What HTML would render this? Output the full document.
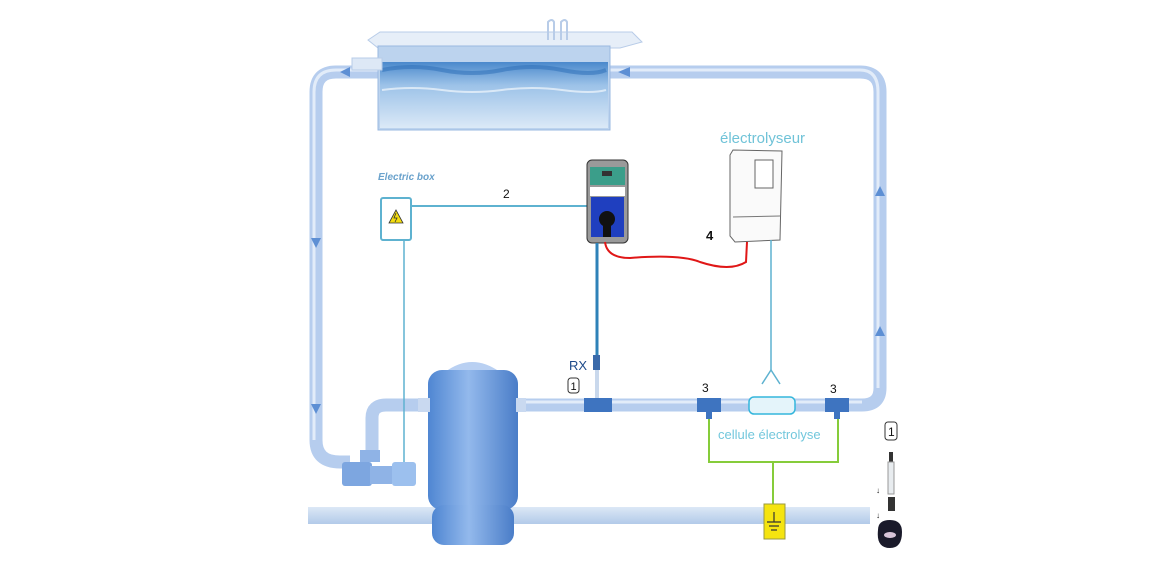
<!DOCTYPE html>
<html><head><meta charset="utf-8"><style>
html,body{margin:0;padding:0;background:#fff;}
svg{display:block;}
text{font-family:"Liberation Sans",sans-serif;}
</style></head><body>
<svg width="1158" height="574" viewBox="0 0 1158 574" xmlns="http://www.w3.org/2000/svg">
<defs>
<linearGradient id="water" x1="0" y1="0" x2="0" y2="1">
<stop offset="0" stop-color="#4a89cc"/><stop offset="0.35" stop-color="#9cc2e8"/><stop offset="1" stop-color="#dbe9f7"/>
</linearGradient>
<linearGradient id="tank" x1="0" y1="0" x2="1" y2="0">
<stop offset="0" stop-color="#4f86d2"/><stop offset="0.45" stop-color="#93b9ec"/><stop offset="1" stop-color="#4a7dc8"/>
</linearGradient>
<linearGradient id="slab" x1="0" y1="0" x2="0" y2="1">
<stop offset="0" stop-color="#dce8f6"/><stop offset="1" stop-color="#b2cae9"/>
</linearGradient>
</defs>
<g fill="none" stroke="#b6cdee" stroke-width="13" stroke-linecap="butt">
<path d="M378 72 H336 Q316 72 316 92 V440 Q316 462 340 462 H350"/>
<path d="M610 72 H860 Q880 72 880 92 V388 Q880 405 862 405 H520"/>
<path d="M372 450 V418 Q372 405 386 405 H430"/>
</g>
<g fill="none" stroke="#e2ecf9" stroke-width="3">
<path d="M378 70 H336 Q314 70 314 92 V440"/>
<path d="M610 70 H860 Q878 70 878 92 V388"/>
<path d="M520 402 H862"/>
</g>
<g fill="#5d8fd4">
<polygon points="340,72 350,67 350,77"/>
<polygon points="618,72 630,67 630,77"/>
<polygon points="316,248 311,238 321,238"/>
<polygon points="316,414 311,404 321,404"/>
<polygon points="880,186 875,196 885,196"/>
<polygon points="880,326 875,336 885,336"/>
</g>
<polygon points="368,40 380,32 632,32 642,42 620,48 378,48" fill="#e6eef8" stroke="#b8cce8"/>
<rect x="378" y="46" width="232" height="84" fill="#bcd3ee" stroke="#9ab8e0"/>
<rect x="380" y="62" width="228" height="66" fill="url(#water)"/>
<path d="M382 70 q30 -6 60 0 t60 0 t60 0 t44 0" stroke="#2a6bb5" stroke-width="4" fill="none" opacity="0.5"/>
<path d="M382 90 q30 -4 60 0 t60 0 t60 0 t44 0" stroke="#ffffff" stroke-width="2" fill="none" opacity="0.6"/>
<path d="M548 40 V22 q4 -4 6 0 V40 M561 40 V22 q4 -4 6 0 V40" stroke="#b8cce8" stroke-width="2" fill="none"/>
<rect x="352" y="58" width="30" height="12" fill="#dde8f6" stroke="#b8cce8"/>
<rect x="308" y="507" width="562" height="17" fill="url(#slab)"/>
<text x="378" y="180" font-size="10" font-weight="bold" font-style="italic" fill="#6aa2cc">Electric box</text>
<rect x="381" y="198" width="30" height="42" rx="2" fill="#fff" stroke="#5eb2d0" stroke-width="2"/>
<polygon points="396,210 389,223 403,223" fill="#f3dc0f" stroke="#333" stroke-width="0.8"/>
<path d="M396 213 l-2 5 h3 l-2 4" stroke="#333" stroke-width="0.8" fill="none"/>
<line x1="411" y1="206" x2="587" y2="206" stroke="#5eb2d0" stroke-width="2"/>
<text x="503" y="198" font-size="12" fill="#111">2</text>
<line x1="404" y1="240" x2="404" y2="482" stroke="#5eb2d0" stroke-width="1.5"/>
<rect x="587" y="160" width="41" height="83" rx="5" fill="#9a9a9a" stroke="#333"/>
<rect x="590" y="167" width="35" height="18" fill="#3b9e8a"/>
<rect x="602" y="171" width="10" height="5" fill="#333"/>
<rect x="590" y="187" width="35" height="9" fill="#fff"/>
<rect x="591" y="197" width="33" height="40" fill="#1f3fbf"/>
<circle cx="607" cy="219" r="8" fill="#111"/>
<rect x="603" y="219" width="8" height="18" fill="#111"/>
<line x1="597" y1="243" x2="597" y2="356" stroke="#2e82b8" stroke-width="3"/>
<rect x="593" y="355" width="7" height="15" fill="#3a6aaa"/>
<rect x="595" y="370" width="4" height="28" fill="#c9d8ec"/>
<text x="569" y="370" font-size="13" fill="#1d4a8a">RX</text>
<rect x="568" y="378" width="11" height="15" rx="3" fill="#fff" stroke="#333"/>
<text x="570.5" y="390" font-size="11" fill="#111">1</text>
<path d="M605 242 Q607 258 630 258 Q680 254 700 262 Q730 272 746 262 L747 242" stroke="#e01717" stroke-width="2" fill="none"/>
<text x="706" y="240" font-size="13" font-weight="bold" fill="#111">4</text>
<text x="720" y="143" font-size="15" fill="#70c3d8">électrolyseur</text>
<polygon points="730,155 733,150 782,151 780,240 735,242 730,236" fill="#fafafa" stroke="#666"/>
<line x1="733" y1="217" x2="780" y2="216" stroke="#777"/>
<rect x="755" y="160" width="18" height="28" fill="#fff" stroke="#666"/>
<line x1="771" y1="240" x2="771" y2="370" stroke="#5eb2d0" stroke-width="1.5"/>
<path d="M771 370 L762 384 M771 370 L780 384" stroke="#5eb2d0" stroke-width="1.5" fill="none"/>
<rect x="584" y="398" width="14" height="14" fill="#3e74c0"/>
<rect x="598" y="398" width="14" height="14" fill="#3e74c0"/>
<rect x="697" y="398" width="12" height="14" fill="#3e74c0"/><rect x="709" y="398" width="12" height="14" fill="#3e74c0"/>
<rect x="706" y="412" width="6" height="7" fill="#3e74c0"/>
<rect x="825" y="398" width="12" height="14" fill="#3e74c0"/><rect x="837" y="398" width="12" height="14" fill="#3e74c0"/>
<rect x="834" y="412" width="6" height="7" fill="#3e74c0"/>
<rect x="749" y="397" width="46" height="17" rx="5" fill="#e4f4fa" stroke="#35b6dc" stroke-width="1.5"/>
<text x="702" y="392" font-size="12" fill="#111">3</text>
<text x="830" y="393" font-size="12" fill="#111">3</text>
<text x="718" y="439" font-size="13" fill="#72c7dc">cellule électrolyse</text>
<path d="M709 419 V462 H838 V419 M773 462 V505" stroke="#86cc3a" stroke-width="2" fill="none"/>
<rect x="764" y="504" width="21" height="35" fill="#f5e410" stroke="#9a9a40"/>
<path d="M774 512 V522 M767 522 H781 M769 526 H779 M771 530 H777" stroke="#333" stroke-width="1.2"/>
<path d="M445 372 Q472 352 500 372 Z" fill="#b9d0f2"/>
<rect x="428" y="370" width="90" height="140" rx="14" fill="url(#tank)"/>
<rect x="432" y="505" width="82" height="40" rx="12" fill="url(#tank)"/>
<rect x="418" y="398" width="12" height="14" fill="#c9d9f0"/>
<rect x="516" y="398" width="10" height="14" fill="#c9d9f0"/>
<rect x="342" y="462" width="30" height="24" rx="3" fill="#7da6e0"/>
<rect x="370" y="466" width="22" height="18" fill="#8fb3e6"/>
<rect x="392" y="462" width="24" height="24" rx="3" fill="#9cc0ee"/>
<rect x="360" y="450" width="20" height="12" fill="#8fb3e6"/>
<rect x="885" y="422" width="12" height="18" rx="3" fill="#fff" stroke="#333"/>
<text x="888" y="436" font-size="12" fill="#111">1</text>
<rect x="889" y="452" width="4" height="10" fill="#333"/>
<rect x="888" y="462" width="6" height="32" fill="#e8ecef" stroke="#999"/>
<rect x="888" y="497" width="7" height="14" fill="#333"/>
<text x="876" y="493" font-size="8" fill="#111">↓</text>
<text x="876" y="518" font-size="8" fill="#111">↓</text>
<path d="M878 530 Q878 520 890 520 Q902 520 902 532 Q902 548 890 548 Q876 548 878 530 Z" fill="#1a1a2a"/>
<ellipse cx="890" cy="535" rx="6" ry="3" fill="#d8c4d8"/>
</svg>
</body></html>
